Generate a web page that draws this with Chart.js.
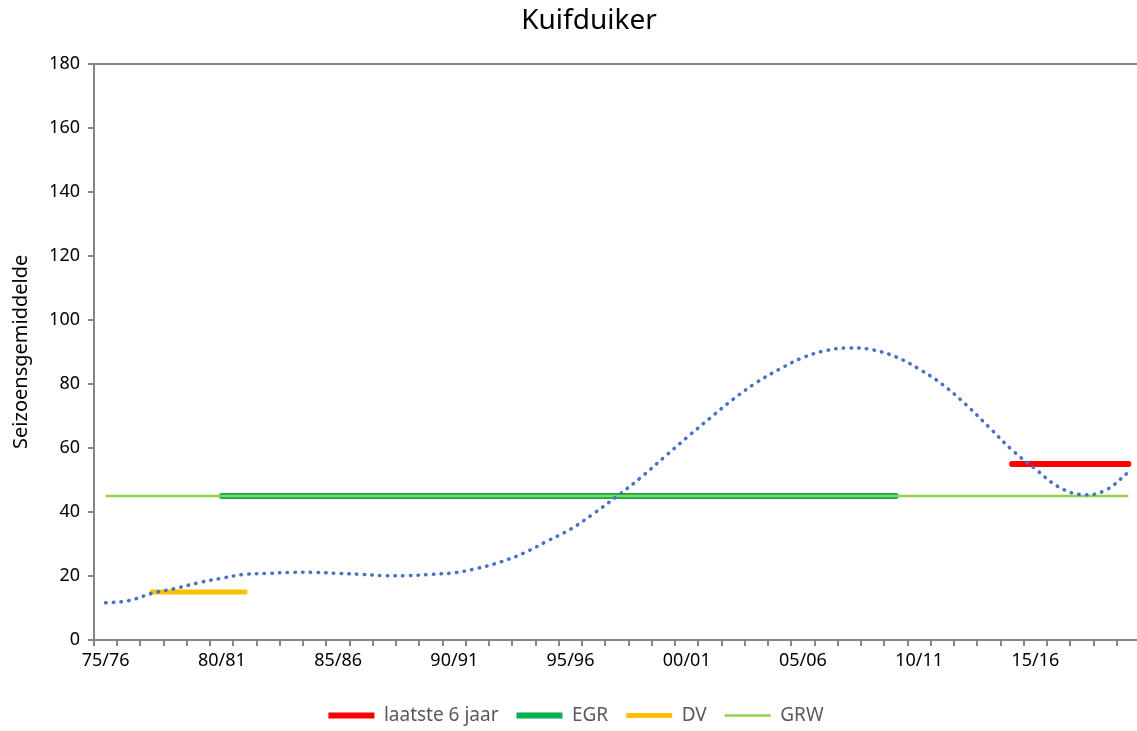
<!DOCTYPE html>
<html lang="nl">
<head>
    <meta charset="UTF-8">
    <title>Kuifduiker</title>
    <script src="https://cdn.jsdelivr.net/npm/chart.js"></script>
    <style>
        body {
            margin: 0;
            background-color: white;
            overflow: hidden;
        }
        #grafiek {
            display: block;
        }
    </style>
</head>
<body>
    <canvas id="grafiek" width="1150" height="731"></canvas>

    <script>
        // seizoenen op de x-as
        const seizoenen = [
            '75/76', '76/77', '77/78', '78/79', '79/80', '80/81', '81/82', '82/83', '83/84', '84/85',
            '85/86', '86/87', '87/88', '88/89', '89/90', '90/91', '91/92', '92/93', '93/94', '94/95',
            '95/96', '96/97', '97/98', '98/99', '99/00', '00/01', '01/02', '02/03', '03/04', '04/05',
            '05/06', '06/07', '07/08', '08/09', '09/10', '10/11', '11/12', '12/13', '13/14', '14/15',
            '15/16', '16/17', '17/18', '18/19', '19/20'
        ];

        const trend = [
            11.6, 12.3, 14.6, 16.1, 17.9, 19.3, 20.5, 20.8, 21.1, 21.1,
            20.8, 20.5, 20.1, 20.1, 20.5, 21.0, 22.4, 24.4, 27.2, 30.9,
            34.6, 39.5, 44.9, 50.6, 56.9, 63.2, 69.3, 75.2, 80.4, 84.6,
            88.2, 90.4, 91.2, 90.6, 88.4, 84.6, 79.8, 73.6, 66.5, 59.3,
            53.4, 47.8, 45.4, 46.7, 52.4
        ];

        // referentieniveaus: waarde en eerste/laatste seizoen
        const laatste6Waarde = 55;
        const laatste6Periode = ['14/15', '19/20'];
        const egrWaarde = 45;
        const egrPeriode = ['80/81', '09/10'];
        const dvWaarde = 15;
        const dvPeriode = ['77/78', '81/82'];
        const grwWaarde = 45;
        const grwPeriode = ['75/76', '19/20'];

        const yTicks = [0, 20, 40, 60, 80, 100, 120, 140, 160, 180];

        function niveau(waarde, periode) {
            const van = seizoenen.indexOf(periode[0]);
            const tot = seizoenen.indexOf(periode[1]);
            return seizoenen.map((s, i) => (i >= van && i <= tot) ? waarde : null);
        }

        const grijs = '#868686';
        Chart.defaults.font.family = "'Noto Sans', sans-serif";

        // titel en legenda iets verschuiven zoals in het origineel
        const verschuif = {
            id: 'verschuif',
            afterLayout(chart) {
                chart.titleBlock.left += 19;
                chart.titleBlock.right += 19;
                chart.legend.left += 6;
                chart.legend.right += 6;
                chart.legend.top += 4;
                chart.legend.bottom += 4;
            }
        };

        const ctx = document.getElementById('grafiek').getContext('2d');
        new Chart(ctx, {
            type: 'line',
            data: {
                labels: seizoenen,
                datasets: [
                    {
                        label: 'laatste 6 jaar',
                        data: niveau(laatste6Waarde, laatste6Periode),
                        borderColor: '#FF0000',
                        backgroundColor: '#FF0000',
                        borderWidth: 6,
                        borderCapStyle: 'round',
                        pointRadius: 0,
                        order: 2
                    },
                    {
                        label: 'EGR',
                        data: niveau(egrWaarde, egrPeriode),
                        borderColor: '#00B050',
                        backgroundColor: '#00B050',
                        borderWidth: 6,
                        borderCapStyle: 'round',
                        pointRadius: 0,
                        order: 3
                    },
                    {
                        label: 'DV',
                        data: niveau(dvWaarde, dvPeriode),
                        borderColor: '#FFC000',
                        backgroundColor: '#FFC000',
                        borderWidth: 5,
                        borderCapStyle: 'round',
                        pointRadius: 0,
                        order: 4
                    },
                    {
                        label: 'GRW',
                        data: niveau(grwWaarde, grwPeriode),
                        borderColor: '#92D050',
                        backgroundColor: '#92D050',
                        borderWidth: 2.5,
                        pointRadius: 0,
                        order: 1
                    },
                    {
                        label: 'trend',
                        data: trend,
                        borderColor: '#4472C4',
                        borderWidth: 3.5,
                        borderDash: [0.5, 7.2],
                        borderCapStyle: 'round',
                        tension: 0.4,
                        pointRadius: 0,
                        order: 0
                    }
                ]
            },
            options: {
                responsive: false,
                animation: false,
                layout: {
                    padding: { left: 0, right: 10, top: 0, bottom: 0 }
                },
                scales: {
                    x: {
                        offset: true,
                        grid: {
                            offset: true,
                            drawOnChartArea: false,
                            color: grijs,
                            lineWidth: 2,
                            tickLength: 6
                        },
                        border: { color: grijs, width: 2 },
                        ticks: {
                            autoSkip: false,
                            maxRotation: 0,
                            padding: 4,
                            color: '#000',
                            font: { size: 18 },
                            callback: function (value, index) {
                                return index % 5 === 0 ? seizoenen[index] : '';
                            }
                        },
                        afterFit: function (scale) {
                            scale.height = 44;
                        }
                    },
                    y: {
                        min: 0,
                        max: 180,
                        afterBuildTicks: function (scale) {
                            scale.ticks = yTicks.map(v => ({ value: v }));
                        },
                        grid: {
                            color: c => c.tick.value === 180 ? grijs : 'rgba(0,0,0,0)',
                            tickColor: grijs,
                            lineWidth: 2,
                            tickLength: 6
                        },
                        border: { color: grijs, width: 2 },
                        ticks: {
                            padding: 8,
                            color: '#000',
                            font: { size: 18 }
                        },
                        title: {
                            display: true,
                            text: 'Seizoensgemiddelde',
                            color: '#000',
                            font: { size: 20 },
                            padding: { top: 9, bottom: 0 }
                        },
                        afterFit: function (scale) {
                            scale.width = 94;
                        }
                    }
                },
                plugins: {
                    title: {
                        display: true,
                        text: 'Kuifduiker',
                        color: '#000',
                        font: { size: 28, weight: 'normal' },
                        padding: { top: 4, bottom: 26 }
                    },
                    legend: {
                        position: 'bottom',
                        labels: {
                            usePointStyle: true,
                            pointStyle: 'line',
                            pointStyleWidth: 46,
                            padding: 18,
                            color: '#595959',
                            font: { size: 19 },
                            filter: item => item.text !== 'trend',
                            sort: (a, b) => a.datasetIndex - b.datasetIndex
                        }
                    },
                    tooltip: { enabled: false }
                }
            },
            plugins: [verschuif]
        });
    </script>
</body>
</html>
